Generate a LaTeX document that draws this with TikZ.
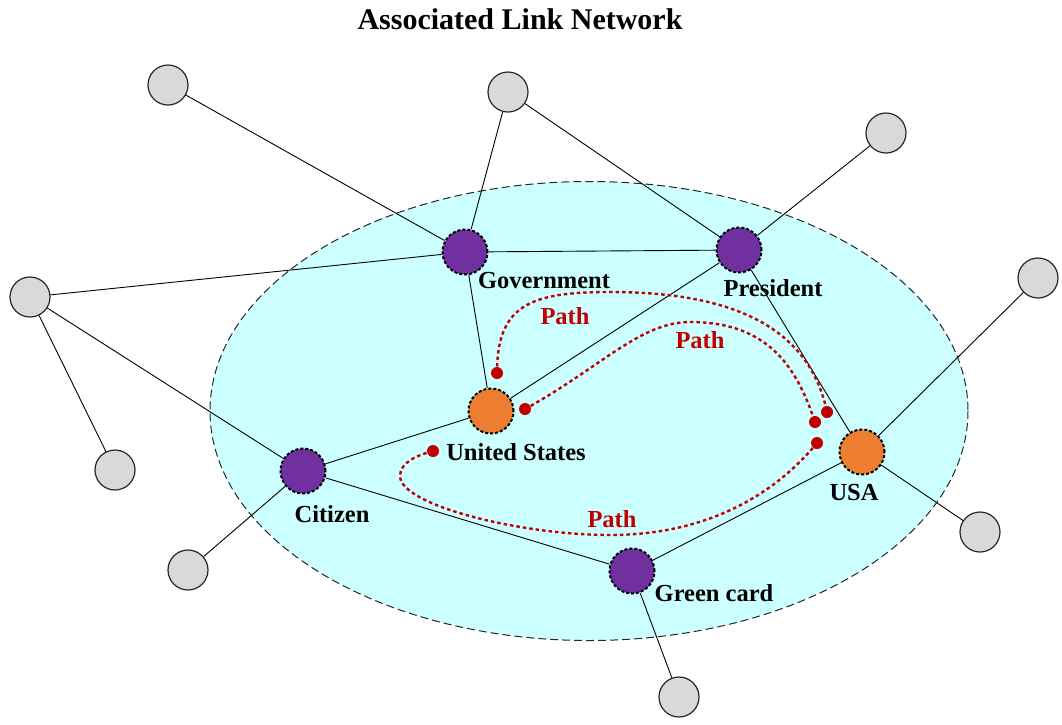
\documentclass[tikz,border=0pt]{standalone}
\usepackage{fontspec}
\setmainfont{Liberation Serif}
\definecolor{cyanbg}{HTML}{CCFFFF}
\definecolor{purp}{HTML}{7030A0}
\definecolor{oran}{HTML}{ED7D31}
\definecolor{greyn}{HTML}{D9D9D9}
\definecolor{pathred}{HTML}{C00000}
\begin{document}
\begin{tikzpicture}[x=1pt,y=-1pt,
  greynode/.style={circle,draw=black!85,line width=1.2pt,fill=greyn,minimum size=40pt,inner sep=0pt},
  keynode/.style={circle,draw=black,line width=2pt,dash pattern=on 3pt off 2pt,minimum size=45pt,inner sep=0pt},
  purpnode/.style={keynode,fill=purp},
  orangenode/.style={keynode,fill=oran},
  lbl/.style={font=\fontsize{24.5}{28}\selectfont\bfseries,anchor=base,inner sep=0pt},
  pathlbl/.style={lbl,text=pathred},
  link/.style={draw=black,line width=0.9pt},
  redpath/.style={draw=pathred,line width=2.4pt,dash pattern=on 3.5pt off 3pt},
  reddot/.style={circle,fill=pathred,minimum size=12pt,inner sep=0pt}
]
\path[use as bounding box] (0,0) rectangle (1062,724);
\node[font=\fontsize{30}{34}\selectfont\bfseries,anchor=base,inner sep=0pt] (title) at (520,29) {Associated Link Network};

\draw[fill=cyanbg,draw=black!85,line width=1pt,dash pattern=on 8pt off 4pt] (589,411) ellipse [x radius=379, y radius=229.5];

% grey nodes
\node[greynode] (g1) at (168,85) {};
\node[greynode] (g2) at (508,92) {};
\node[greynode] (g3) at (886,133) {};
\node[greynode] (g4) at (30,297) {};
\node[greynode] (g5) at (1038,278) {};
\node[greynode] (g6) at (115,470) {};
\node[greynode] (g7) at (188,570) {};
\node[greynode] (g8) at (980,532) {};
\node[greynode] (g9) at (679,697) {};

% key nodes
\node[purpnode] (gov) at (465,252) {};
\node[purpnode] (pres) at (739,250) {};
\node[purpnode] (cit) at (303,471) {};
\node[purpnode] (green) at (632,571) {};
\node[orangenode] (us) at (491,411) {};
\node[orangenode] (usa) at (862,452) {};

% links
\draw[link] (g1) -- (gov);
\draw[link] (g2) -- (gov);
\draw[link] (g2) -- (pres);
\draw[link] (g3) -- (pres);
\draw[link] (g4) -- (gov);
\draw[link] (gov) -- (pres);
\draw[link] (gov) -- (us);
\draw[link] (us) -- (pres);
\draw[link] (pres) -- (usa);
\draw[link] (g4) -- (cit);
\draw[link] (g4) -- (g6);
\draw[link] (cit) -- (us);
\draw[link] (cit) -- (g7);
\draw[link] (cit) -- (green);
\draw[link] (green) -- (usa);
\draw[link] (green) -- (g9);
\draw[link] (usa) -- (g5);
\draw[link] (usa) -- (g8);

% labels
\node[lbl] (lgov) at (544,288) {Government};
\node[lbl] (lpres) at (773,296) {President};
\node[lbl] (lus) at (516,460) {United States};
\node[lbl] (lcit) at (332,522) {Citizen};
\node[lbl] (lusa) at (854,500) {USA};
\node[lbl] (lgreen) at (714,601) {Green card};

% paths
\node[reddot] (d1) at (497,373) {};
\node[reddot] (d2) at (827,412) {};
\node[reddot] (d3) at (525,409) {};
\node[reddot] (d4) at (815,422) {};
\node[reddot] (d5) at (817,443) {};
\node[reddot] (d6) at (433,451) {};

\draw[redpath] (d1.center) .. controls (497,305) and (530,292) .. (610,292) .. controls (720,292) and (808,320) .. (d2.center);
\draw[redpath] (d3.center) .. controls (600,368) and (640,322) .. (690,322) .. controls (772,322) and (798,372) .. (d4.center);
\draw[redpath] (d5.center) .. controls (770,500) and (700,535) .. (610,535) .. controls (520,535) and (400,505) .. (400,476) .. controls (400,462) and (418,455) .. (d6.center);

\node[pathlbl] (p1) at (565,324) {Path};
\node[pathlbl] (p2) at (700,348) {Path};
\node[pathlbl] (p3) at (612,527) {Path};
\end{tikzpicture}
\end{document}
